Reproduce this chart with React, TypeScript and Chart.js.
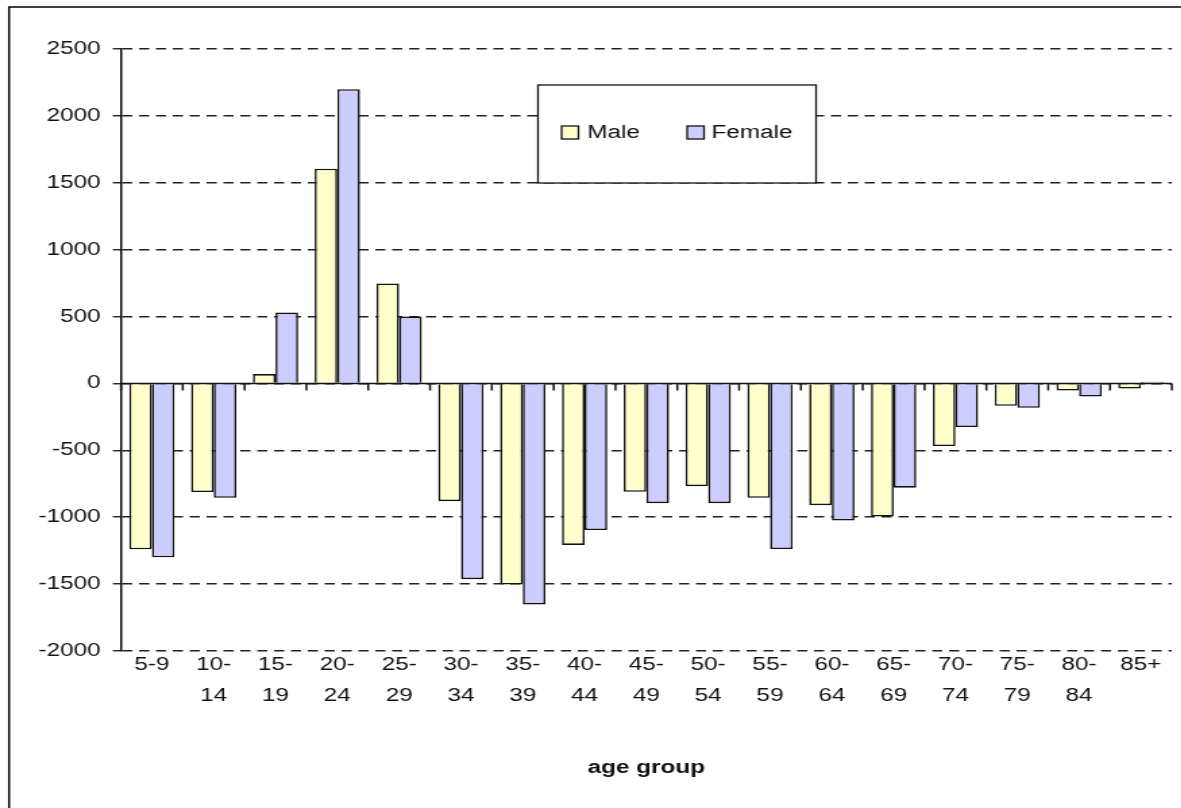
import React, { useEffect, useRef } from "react";
import { Chart, registerables } from "chart.js";

Chart.register(...registerables);

// ---- data ----
const ageGroups: (string | string[])[] = [
  "5-9", ["10-", "14"], ["15-", "19"], ["20-", "24"], ["25-", "29"], ["30-", "34"],
  ["35-", "39"], ["40-", "44"], ["45-", "49"], ["50-", "54"], ["55-", "59"],
  ["60-", "64"], ["65-", "69"], ["70-", "74"], ["75-", "79"], ["80-", "84"], "85+",
];
const maleValues = [-1240, -812, 70, 1605, 748, -880, -1503, -1207, -810, -768, -855, -910, -995, -468, -167, -53, -38];
const femaleValues = [-1300, -855, 530, 2200, 500, -1463, -1652, -1096, -895, -895, -1238, -1025, -779, -326, -182, -98, 12];
const seriesNames = ["Male", "Female"];
const yMin = -2000;
const yMax = 2500;
const yStep = 500;
const xTitle = "age group";

// ---- style ----
const STRETCH = 1.35;
const CW = 875;
const CH = 808;
const FONT = "'Liberation Sans', Arial, sans-serif";
const maleColor = "#FFFFCC";
const femaleColor = "#CCCCFF";

const framePlugin = {
  id: "frame",
  beforeDraw(chart: any) {
    const { ctx } = chart;
    ctx.save();
    ctx.fillStyle = "#fff";
    ctx.fillRect(0, 0, chart.width, chart.height);
    ctx.restore();
  },
  afterDraw(chart: any) {
    const { ctx } = chart;
    ctx.save();
    ctx.strokeStyle = "#000";
    ctx.lineWidth = 1.5;
    ctx.beginPath();
    ctx.moveTo(6.7, chart.height + 5);
    ctx.lineTo(6.7, 7);
    ctx.lineTo(chart.width + 5, 7);
    ctx.stroke();
    ctx.restore();
  },
};

const zeroAxisPlugin = {
  id: "zeroAxis",
  afterDatasetsDraw(chart: any) {
    const { ctx, chartArea, scales } = chart;
    const y0 = scales.y.getPixelForValue(0);
    const n = chart.data.labels.length;
    const w = (chartArea.right - chartArea.left) / n;
    ctx.save();
    ctx.strokeStyle = "#111";
    ctx.lineWidth = 1.5;
    ctx.beginPath();
    ctx.moveTo(chartArea.left, y0);
    ctx.lineTo(chartArea.right, y0);
    for (let i = 0; i <= n; i++) {
      const x = chartArea.left + i * w;
      ctx.moveTo(x, y0);
      ctx.lineTo(x, y0 + 7);
    }
    ctx.stroke();
    ctx.restore();
  },
};

const legendPlugin = {
  id: "boxLegend",
  afterDraw(chart: any) {
    const { ctx } = chart;
    const bx = 398.5, by = 85, bw = 206, bh = 98;
    ctx.save();
    ctx.fillStyle = "#fff";
    ctx.fillRect(bx, by, bw, bh);
    ctx.strokeStyle = "#111";
    ctx.lineWidth = 1.3;
    ctx.strokeRect(bx, by, bw, bh);
    const items = [
      { sx: 416, tx: 435 },
      { sx: 509, tx: 527 },
    ];
    chart.data.datasets.forEach((ds: any, i: number) => {
      const it = items[i];
      ctx.fillStyle = ds.backgroundColor;
      ctx.fillRect(it.sx, 126, 12.5, 13);
      ctx.strokeStyle = "#111";
      ctx.lineWidth = 1.3;
      ctx.strokeRect(it.sx, 126, 12.5, 13);
      ctx.fillStyle = "#111";
      ctx.font = `18px ${FONT}`;
      ctx.textBaseline = "middle";
      ctx.textAlign = "left";
      ctx.fillText(ds.label, it.tx, 133);
    });
    ctx.restore();
  },
};

export default function App() {
  const ref = useRef<HTMLCanvasElement | null>(null);

  useEffect(() => {
    if (!ref.current) return;
    const chart = new Chart(ref.current, {
      type: "bar",
      data: {
        labels: ageGroups as any,
        datasets: [
          {
            label: seriesNames[0],
            data: maleValues,
            backgroundColor: maleColor,
            borderColor: "#111",
            borderWidth: 1.6,
            categoryPercentage: 0.733,
            barPercentage: 1,
          },
          {
            label: seriesNames[1],
            data: femaleValues,
            backgroundColor: femaleColor,
            borderColor: "#111",
            borderWidth: 1.6,
            categoryPercentage: 0.733,
            barPercentage: 1,
          },
        ],
      },
      options: {
        animation: false,
        responsive: false,
        devicePixelRatio: 1,
        layout: { padding: { top: 49, right: 7, left: 0, bottom: 0 } },
        plugins: {
          legend: { display: false },
          tooltip: { enabled: false },
        },
        scales: {
          x: {
            grid: { display: false, drawTicks: false },
            border: { display: false },
            ticks: {
              color: "#111",
              font: { family: FONT, size: 18, lineHeight: 1.75 },
              padding: -2,
              maxRotation: 0,
              autoSkip: false,
            },
            title: {
              display: true,
              text: xTitle,
              color: "#111",
              font: { family: FONT, size: 18, weight: "bold", lineHeight: 1.2 },
              padding: { top: 0, bottom: 29 },
            },
            afterFit: (s: any) => {
              s.height = CH - 651;
            },
          },
          y: {
            min: yMin,
            max: yMax,
            ticks: {
              stepSize: yStep,
              color: "#111",
              font: { family: FONT, size: 18 },
              padding: 9,
              callback: (v: any) => String(v),
            },
            grid: {
              color: "#222",
              lineWidth: 1.5,
              tickLength: 6,
              tickColor: "#111",
              tickWidth: 1.3,
            },
            border: { display: true, color: "#111", width: 1.5, dash: [7.5, 5] },
            afterFit: (s: any) => {
              s.width = 89.6;
            },
          },
        },
      } as any,
      plugins: [framePlugin, zeroAxisPlugin, legendPlugin],
    });
    return () => chart.destroy();
  }, []);

  return (
    <div
      style={{
        position: "absolute",
        left: 0,
        top: 0,
        width: 1181,
        height: 808,
        overflow: "hidden",
        background: "#fff",
      }}
    >
      <canvas
        ref={ref}
        width={CW}
        height={CH}
        style={{
          width: CW,
          height: CH,
          display: "block",
          transform: `scaleX(${STRETCH})`,
          transformOrigin: "0 0",
        }}
      />
    </div>
  );
}
